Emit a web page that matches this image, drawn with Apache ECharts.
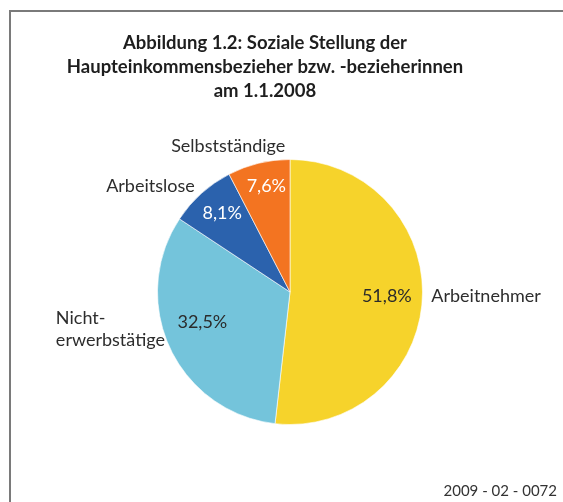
<!DOCTYPE html>
<html>
<head>
<meta charset="utf-8">
<script src="https://cdn.jsdelivr.net/npm/echarts@6/dist/echarts.min.js"></script>
<style>
  html, body { margin: 0; padding: 0; background: #fff; }
  #chart { width: 563px; height: 502px; }
</style>
</head>
<body>
<div id="chart"></div>
<script>
// Soziale Stellung der Haupteinkommensbezieher, Anteile in %
const categories = ['Arbeitnehmer', 'Nichterwerbstätige', 'Arbeitslose', 'Selbstständige'];
const shares = [51.8, 32.5, 8.1, 7.6];
const sliceColors = ['#F6D32B', '#74C4DB', '#2B62AD', '#F37421'];
const percentColors = ['#2b2b2b', '#2b2b2b', '#ffffff', '#ffffff'];

// small label nudges [dx, dy] (outside names / inside percentages)
const nameNudges = [[-1, -4], [1, -23], [0, 0], [29, -7]];
const percentNudges = [[-3, -1], [3, -12], [-1, -4], [0, -9]];

const FONT = 'Lato';

function fmtPercent(v) {
  return v.toFixed(1).replace('.', ',') + '%';
}

const chart = echarts.init(document.getElementById('chart'));

const pieData = categories.map((name, i) => ({
  name: name,
  value: shares[i],
  itemStyle: { color: sliceColors[i] }
}));

const labelData = categories.map((name, i) => ({
  name: name,
  value: shares[i],
  label: { color: percentColors[i] }
}));

const options = {
  animation: false,
  title: [
    {
      text: 'Abbildung 1.2: Soziale Stellung der\nHaupteinkommensbezieher bzw. -bezieherinnen\nam 1.1.2008',
      left: 260,
      top: 26,
      textAlign: 'center',
      textStyle: {
        fontFamily: FONT,
        fontSize: 18.5,
        fontWeight: 'bold',
        lineHeight: 24,
        color: '#1e1e1e'
      }
    },
    {
      text: '2009 - 02 - 0072',
      right: 1,
      bottom: -2,
      textStyle: {
        fontFamily: FONT,
        fontSize: 15,
        fontWeight: 'normal',
        color: '#333'
      }
    }
  ],
  graphic: [
    {
      type: 'polyline',
      shape: { points: [[10, 502], [10, 11], [563, 11]] },
      style: { stroke: '#7a7a7a', lineWidth: 2, fill: null }
    }
  ],
  series: [
    {
      type: 'pie',
      center: [290, 292],
      radius: 132.5,
      startAngle: 90,
      clockwise: true,
      avoidLabelOverlap: false,
      silent: true,
      data: pieData,
      itemStyle: { borderColor: '#ffffff', borderWidth: 0.6 },
      label: {
        show: true,
        position: 'outside',
        distanceToLabelLine: 0,
        fontFamily: FONT,
        fontSize: 18,
        color: '#2d2d2d',
        formatter: (p) => p.dataIndex === 1 ? '{l|Nicht-}\n{l|erwerbstätige}' : p.name,
        rich: {
          l: { width: 106, align: 'left', fontFamily: FONT, fontSize: 18, lineHeight: 22, color: '#2d2d2d' }
        }
      },
      labelLine: { show: false, length: 10, length2: 0 },
      labelLayout: (p) => ({ dx: nameNudges[p.dataIndex][0], dy: nameNudges[p.dataIndex][1] })
    },
    {
      type: 'pie',
      center: [290, 292],
      radius: 194,
      startAngle: 90,
      clockwise: true,
      avoidLabelOverlap: false,
      silent: true,
      data: labelData,
      itemStyle: { color: 'rgba(0,0,0,0)' },
      label: {
        show: true,
        position: 'inside',
        fontFamily: FONT,
        fontSize: 18,
        formatter: (p) => fmtPercent(p.value)
      },
      labelLine: { show: false },
      labelLayout: (p) => ({ dx: percentNudges[p.dataIndex][0], dy: percentNudges[p.dataIndex][1] })
    }
  ]
};

chart.setOption(options);
</script>
</body>
</html>
